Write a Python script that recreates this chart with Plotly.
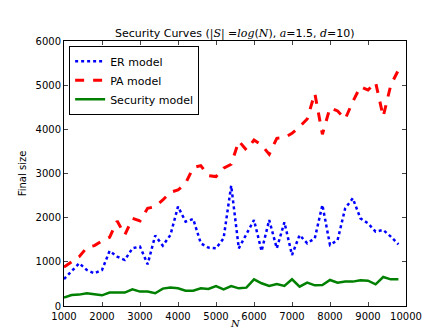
import plotly.graph_objects as go

# Network size N, sampled every 200 from 1000 to 9800.
n_values = list(range(1000, 10000, 200))

er_model = [
    610, 780, 967, 815, 740, 815, 1245, 1118, 1041, 1306,
    1345, 944, 1594, 1367, 1607, 2250, 1910, 1970, 1420, 1322,
    1306, 1533, 2726, 1306, 1623, 1947, 1245, 1947, 1306, 1895,
    1155, 1607, 1420, 1533, 2287, 1381, 1494, 2212, 2438, 1985,
    1872, 1684, 1721, 1571, 1397,
]
pa_model = [
    880, 1005, 1118, 1322, 1367, 1472, 1555, 1924, 1607, 1985,
    1924, 2212, 2250, 2400, 2574, 2626, 2778, 3133, 3179, 2952,
    2930, 3118, 3208, 3736, 3532, 3758, 3645, 3434, 3797, 3812,
    3910, 4061, 4234, 4815, 3887, 4492, 4415, 4234, 4628, 4967,
    4890, 5064, 4288, 5003, 5343,
]
security_model = [
    190, 250, 258, 288, 265, 242, 303, 303, 303, 378,
    326, 326, 288, 394, 416, 400, 348, 348, 400, 385,
    453, 378, 453, 400, 416, 604, 514, 453, 498, 453,
    604, 438, 529, 468, 476, 589, 529, 552, 552, 582,
    574, 491, 657, 604, 604,
]

x_ticks = list(range(1000, 10001, 1000))
x_labels = [str(v) for v in x_ticks]
y_ticks = list(range(0, 6001, 1000))
y_labels = [str(v) for v in y_ticks]

MATH = "font-family:'DejaVu Serif';font-style:italic"


def _math(s):
    """Wrap a fragment in the italic serif used for the math bits."""
    return "<span style=\"" + MATH + "\">" + s + "</span>"


fig = go.Figure()
fig.add_trace(go.Scatter(
    x=n_values, y=er_model, mode="lines", name="ER model",
    line=dict(color="#0000ff", width=2.5, dash="dot"),
))
fig.add_trace(go.Scatter(
    x=n_values, y=pa_model, mode="lines", name="PA model",
    line=dict(color="#ff0000", width=3, dash="dash"),
))
fig.add_trace(go.Scatter(
    x=n_values, y=security_model, mode="lines", name="Security model",
    line=dict(color="#008000", width=2.5),
))

title = ("Security Curves (" + _math("|S|") + " =" + _math("log") + "("
         + _math("N") + "), " + _math("a") + "=1.5, " + _math("d") + "=10)")

fig.update_layout(
    width=443, height=332,
    paper_bgcolor="white", plot_bgcolor="white",
    font=dict(family="DejaVu Sans", size=10, color="black"),
    title=dict(text=title, x=0.512, xanchor="center",
               yref="container", y=0.924, yanchor="middle",
               font=dict(size=11)),
    margin=dict(l=56, r=45, t=33, b=34),
    showlegend=True,
    legend=dict(x=0.015, y=0.982, xanchor="left", yanchor="top",
                bordercolor="black", borderwidth=1, bgcolor="white",
                font=dict(size=11), tracegroupgap=0),
)
fig.add_annotation(
    text=_math("N"), xref="paper", yref="paper", x=0.5, y=-0.066,
    xanchor="center", yanchor="middle", showarrow=False, font=dict(size=10),
)
fig.update_xaxes(
    range=[1000, 10000], tickvals=x_ticks, ticktext=x_labels,
    ticks="inside", ticklen=4, ticklabelstandoff=1,
    showline=True, linecolor="black", linewidth=1, mirror="ticks",
    showgrid=False, zeroline=False,
)
fig.update_yaxes(
    range=[0, 6000], tickvals=y_ticks, ticktext=y_labels,
    ticks="inside", ticklen=4,
    showline=True, linecolor="black", linewidth=1, mirror="ticks",
    showgrid=False, zeroline=False,
    title=dict(text="Final size", standoff=7, font=dict(size=10)),
)

fig.write_html("out.html")
